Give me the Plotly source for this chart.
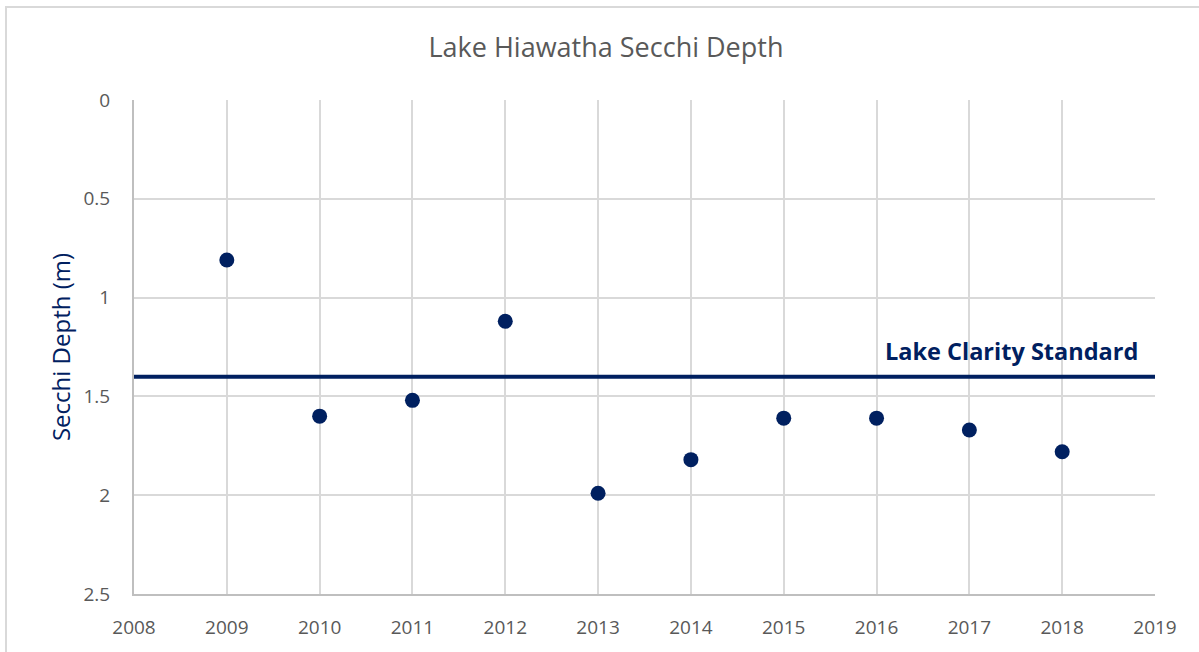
import plotly.graph_objects as go

years = [2009, 2010, 2011, 2012, 2013, 2014, 2015, 2016, 2017, 2018]
secchi_depth = [0.81, 1.60, 1.52, 1.12, 1.99, 1.82, 1.61, 1.61, 1.67, 1.78]
standard_x = [2008, 2019]
standard_y = [1.4, 1.4]
standard_label = "Lake Clarity Standard"
x_ticks = list(range(2008, 2020))
y_ticks = [0, 0.5, 1, 1.5, 2, 2.5]
y_tick_text = ["0", "0.5", "1", "1.5", "2", "2.5"]

navy = "#002060"
gray_text = "#595959"
grid = "#d9d9d9"
font_family = "Open Sans, Liberation Sans, sans-serif"

fig = go.Figure()
fig.add_trace(go.Scatter(x=standard_x, y=standard_y, mode="lines",
                         line=dict(color=navy, width=4), hoverinfo="skip",
                         showlegend=False))
fig.add_trace(go.Scatter(x=years, y=secchi_depth, mode="markers",
                         marker=dict(color=navy, size=15), showlegend=False))

fig.add_annotation(x=standard_x[1], y=standard_y[1], xref="x", yref="y",
                   text="<b>" + standard_label + "</b>", showarrow=False,
                   xanchor="right", yanchor="bottom", xshift=-15, yshift=8,
                   font=dict(family=font_family, size=23.5, color=navy))

# outer chart border
fig.add_shape(type="rect", xref="paper", yref="paper",
              x0=(6 - 134) / 1021, x1=1.2, y0=-0.3, y1=(594 - 7) / 494,
              line=dict(color="#d9d9d9", width=2), fillcolor="rgba(0,0,0,0)",
              layer="below")

fig.update_layout(
    width=1199, height=652,
    margin=dict(l=134, r=44, t=100, b=58, autoexpand=False),
    paper_bgcolor="white", plot_bgcolor="white",
    title=dict(text="Lake Hiawatha Secchi Depth", x=606 / 1199,
               xref="container", xanchor="center", y=1 - 48 / 652, yanchor="middle",
               font=dict(family=font_family, size=27, color=gray_text)),
    font=dict(family=font_family, color=gray_text),
)

fig.update_xaxes(range=[2008, 2019], tickvals=x_ticks, ticktext=[str(v) for v in x_ticks],
                 showgrid=True, gridcolor=grid, gridwidth=2, zeroline=False,
                 showline=True, linecolor="#bfbfbf", linewidth=2, ticks="",
                 tickfont=dict(family=font_family, size=19, color=gray_text),
                 ticklabelstandoff=15, automargin=False)
fig.update_yaxes(range=[2.5, 0], tickvals=y_ticks, ticktext=y_tick_text,
                 showgrid=True, gridcolor=grid, gridwidth=2, zeroline=False,
                 showline=True, linecolor="#bfbfbf", linewidth=2, ticks="",
                 tickfont=dict(family=font_family, size=19, color=gray_text),
                 ticklabelstandoff=18, automargin=False,
                 title=dict(text="Secchi Depth (m)", standoff=6,
                            font=dict(family=font_family, size=24, color=navy)))

fig.write_html("out.html", config={"displayModeBar": False},
               post_script="document.body.style.margin='0';document.body.style.overflow='hidden';")
